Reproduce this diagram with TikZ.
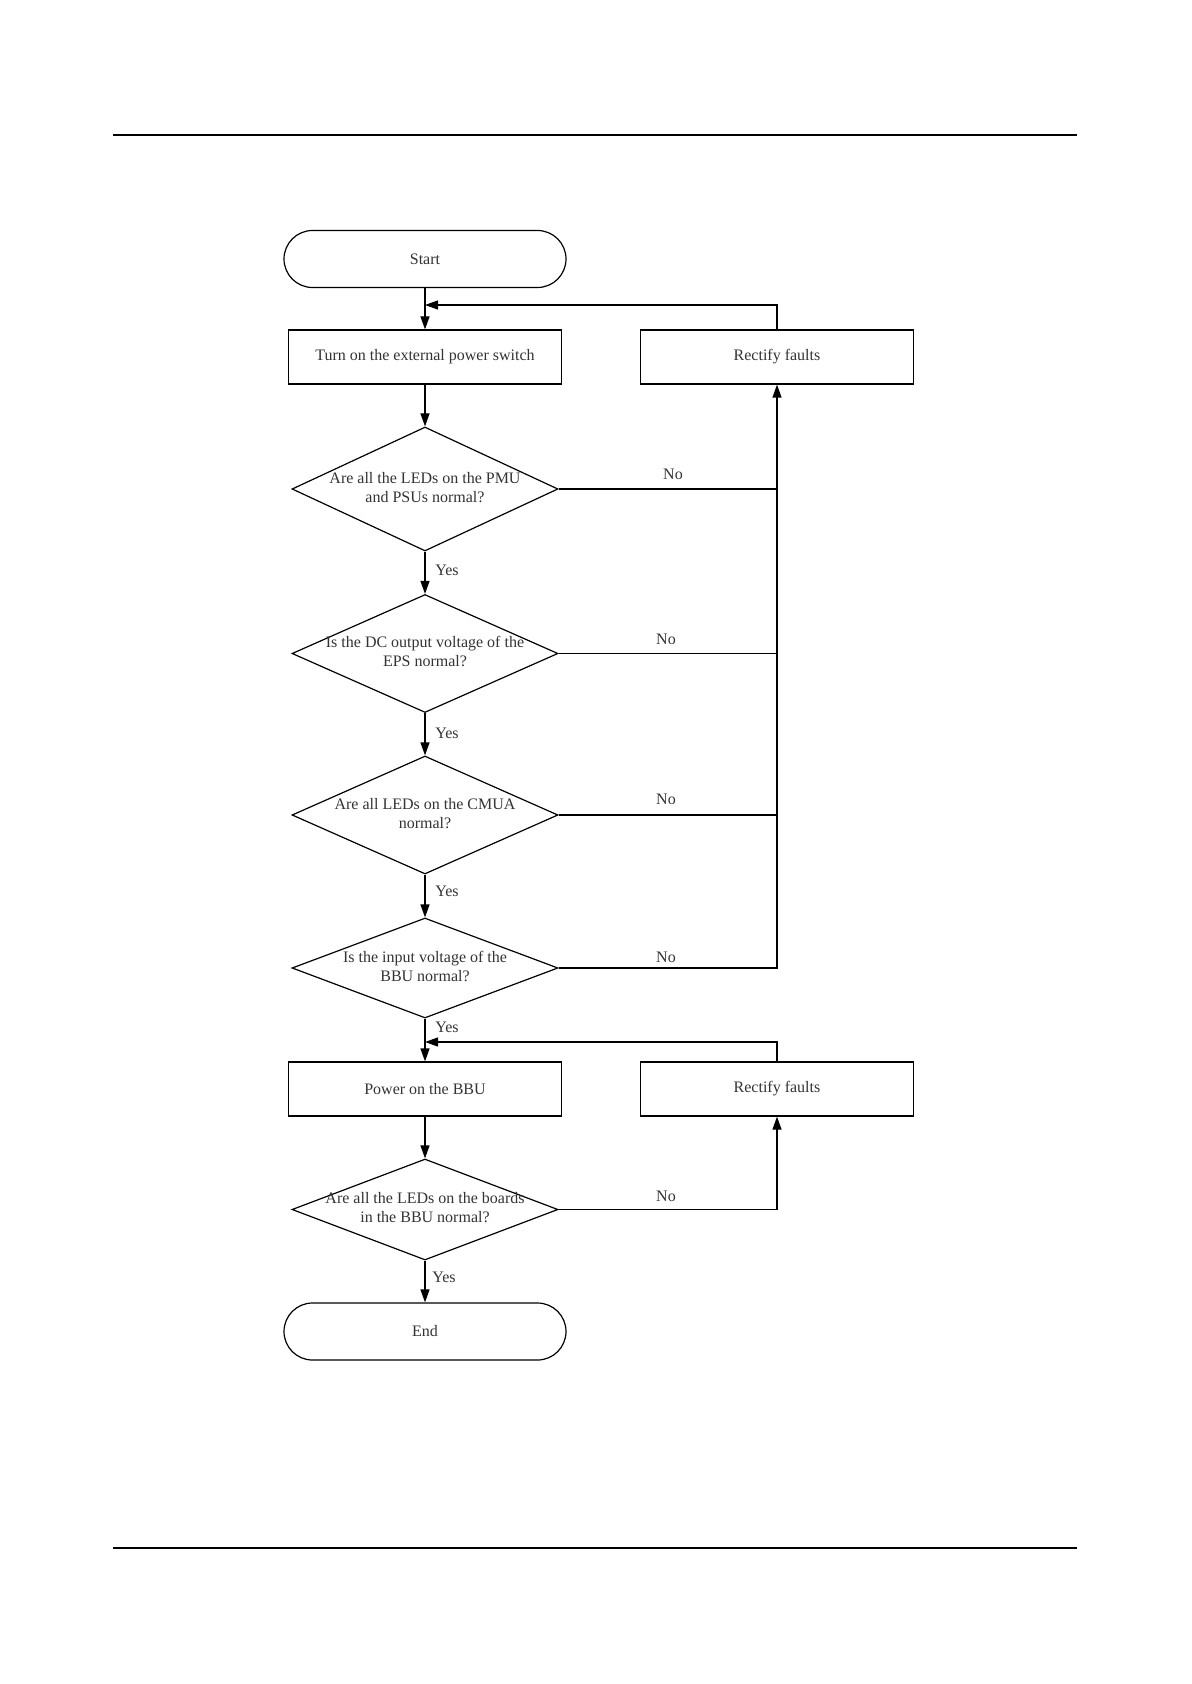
\documentclass[tikz,border=0pt]{standalone}
\usepackage{fontspec}
\setmainfont{Liberation Serif}
\usetikzlibrary{shapes.geometric,arrows.meta,calc}
\newcommand{\twoline}[2]{\begin{tabular}{@{}c@{}}\makebox[0pt]{#1}\\\makebox[0pt]{#2}\end{tabular}}
\begin{document}
\begin{tikzpicture}[x=0.5pt,y=-0.5pt,
  txt/.style={font=\fontsize{8}{9.5}\selectfont, text=black!80},
  box/.style={txt, draw, line width=0.6pt, minimum width=136.5pt, minimum height=27pt, inner sep=0pt},
  term/.style={txt, draw, line width=0.6pt, rounded corners=14.25pt, minimum width=141pt, minimum height=28.5pt, inner sep=0pt},
  dec/.style={txt, draw, diamond, line width=0.6pt, minimum width=133pt, minimum height=#1, inner sep=0pt, aspect=2},
  arr/.style={-{Triangle[length=6.5pt,width=4.5pt]}, line width=0.6pt},
  ln/.style={line width=0.6pt},
  lab/.style={txt, inner sep=1pt}
]
\useasboundingbox (0,0) rectangle (1191,1684);
% header / footer rules
\coordinate (tl) at (113,135);
\coordinate (tr) at (1077,135);
\coordinate (bl) at (113,1548);
\coordinate (br) at (1077,1548);
\draw[line width=0.75pt] (tl) -- (tr);
\draw[line width=0.75pt] (bl) -- (br);

% nodes
\node[term] (start) at (425,259) {Start};
\node[box] (turn) at (425,357) {Turn on the external power switch};
\node[box] (rf1) at (777,357) {Rectify faults};
\node[dec=62pt] (d1) at (425,489) {\twoline{Are all the LEDs on the PMU}{and PSUs normal?}};
\node[dec=59pt] (d2) at (425,653.5) {\twoline{Is the DC output voltage of the}{EPS normal?}};
\node[dec=59pt] (d3) at (425,815) {\twoline{Are all LEDs on the CMUA}{normal?}};
\node[dec=50pt] (d4) at (425,968) {\twoline{Is the input voltage of the}{BBU normal?}};
\node[box] (power) at (425,1089) {Power on the BBU};
\node[box] (rf2) at (777,1089) {Rectify faults};
\node[dec=50.5pt] (d5) at (425,1209.5) {\twoline{Are all the LEDs on the boards}{in the BBU normal?}};
\node[term] (end) at (425,1331.5) {End};

% merge points
\coordinate (fb1) at (425,305);
\coordinate (fb2) at (425,1042);

% connectors
\draw[arr] (start) -- (turn);
\draw[arr] (rf1.north) |- (fb1);
\draw[arr] (turn) -- (d1);
\draw[arr] (d1) -- (d2);
\draw[arr] (d2) -- (d3);
\draw[arr] (d3) -- (d4);
\draw[arr] (d4) -- (power);
\draw[arr] (rf2.north) |- (fb2);
\draw[arr] (power) -- (d5);
\draw[arr] (d5) -- (end);
\draw[ln] (d1.east) -- (d1.east -| rf1);
\draw[ln] (d2.east) -- (d2.east -| rf1);
\draw[ln] (d3.east) -- (d3.east -| rf1);
\draw[arr] (d4.east) -| (rf1.south);
\draw[arr] (d5.east) -| (rf2.south);

% labels
\node[lab, anchor=west] (y1) at (433,570) {Yes};
\node[lab, anchor=west] (y2) at (433,733) {Yes};
\node[lab, anchor=west] (y3) at (433,891) {Yes};
\node[lab, anchor=west] (y4) at (433,1027) {Yes};
\node[lab, anchor=west] (y5) at (430,1277) {Yes};
\node[lab] (n1) at (673,474) {No};
\node[lab] (n2) at (666,639) {No};
\node[lab] (n3) at (666,799) {No};
\node[lab] (n4) at (666,957) {No};
\node[lab] (n5) at (666,1196) {No};
\end{tikzpicture}
\end{document}
